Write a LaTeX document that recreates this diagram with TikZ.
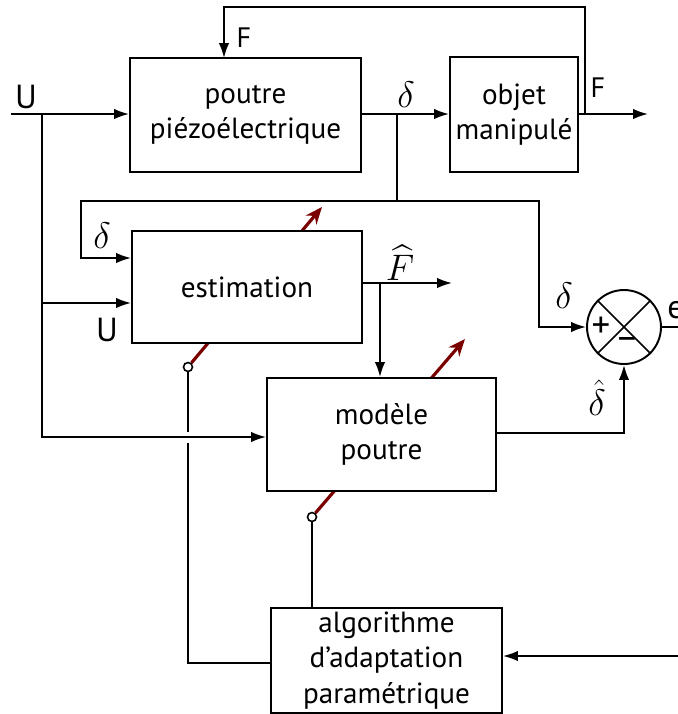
\RequirePackage{fix-cm}
\documentclass[tikz,border=0pt]{standalone}
\usepackage{amsmath}
\usepackage{fontspec}
\setmainfont{PT Sans}
\usetikzlibrary{positioning,arrows.meta,calc}
\definecolor{bordeaux}{RGB}{122,0,0}

\begin{document}
\begin{tikzpicture}[
  x=0.02cm, y=-0.02cm,
  blk/.style={rectangle, draw=black, line width=1.1pt, fill=white,
              align=center, inner sep=0pt,
              font=\fontsize{16.6}{20}\selectfont},
  sig/.style={inner sep=0pt, font=\fontsize{19}{20}\selectfont},
  sigf/.style={inner sep=0pt, font=\fontsize{16}{18}\selectfont},
  sigm/.style={inner sep=0pt, font=\fontsize{21}{22}\selectfont},
  arr/.style={-{Latex[length=3mm,width=2.1mm]}, line width=1.1pt},
  wire/.style={line width=1.1pt},
  adj/.style={-{Stealth[length=3.4mm,width=2.8mm]}, line width=1.8pt, bordeaux},
  pin/.style={circle, draw=black, fill=white, line width=0.9pt,
              minimum size=0.18cm, inner sep=0pt},
]
\useasboundingbox (0,0) rectangle (678,714);

% adjustable parameters (drawn under the blocks)
\node[pin] (pinE) at (188,367) {};
\node[pin] (pinM) at (312,517) {};
\coordinate (tipE) at (322,207);
\coordinate (tipM) at (465,339);
\draw[adj] (pinE) -- (tipE);
\draw[adj] (pinM) -- (tipM);

% blocks
\node[blk, minimum width=4.62cm, minimum height=2.28cm] (poutre) at (245.5,115) {poutre\\piézoélectrique};
\node[blk, minimum width=2.56cm, minimum height=2.30cm] (objet) at (514,114.5) {objet\\manipulé};
\node[blk, minimum width=4.60cm, minimum height=2.24cm] (estim) at (247,287) {estimation};
\node[blk, minimum width=4.58cm, minimum height=2.26cm] (modele) at (381.5,434.5) {modèle\\poutre};
\node[blk, minimum width=4.62cm, minimum height=2.10cm] (algo) at (386.5,660.5) {algorithme\\d’adaptation\\paramétrique};

% comparator
\node[circle, draw=black, line width=1.1pt, minimum size=1.48cm, inner sep=0pt] (sum) at (624,327) {};
\draw[line width=0.9pt] (sum.north west) -- (sum.south east);
\draw[line width=0.9pt] (sum.north east) -- (sum.south west);
\node[sigm] (plus) at ($(sum.center)+(-23,0)$) {+};
\node[sigm] (minus) at ($(sum.center)+(3,16)$) {\textendash};

% helper points
\coordinate (Uin) at (11,114);
\coordinate (jU) at (42,114);
\coordinate (dJ) at (397,114);
\coordinate (dTop) at (397,201);
\coordinate (dLeft) at (81,201);
\coordinate (dRight) at (539,201);
\coordinate (fJ) at (585,114);
\coordinate (fTop) at (585,7);
\coordinate (fIn) at (224,58);
\coordinate (Fout) at (648,114);
\coordinate (FhOut) at (452,283);
\coordinate (fhJ) at (380,283);
\coordinate (eOut) at (678,327);
\coordinate (aIn) at (678,656);
\coordinate (gapLo) at (188,443);
\coordinate (gapHi) at (188,432);

% main chain
\draw[arr] (Uin) -- (poutre.west |- Uin);
\draw[arr] (poutre.east |- dJ) -- (objet.west |- dJ);
\draw[arr] (objet.east |- Fout) -- (Fout);
\draw[arr] (fJ) -- (fTop) -| (fIn);

% input U to estimation and model
\draw[arr] (jU) |- (modele.west |- 0,437);
\draw[arr] (jU |- 0,303) -- (estim.west |- 0,303);

% delta distribution
\draw[wire] (dJ) -- (dTop);
\draw[arr] (dTop) -- (dLeft) |- (estim.west |- 0,258);
\draw[arr] (dTop) -- (dRight) |- (sum.west);

% estimated force
\draw[arr] (estim.east |- FhOut) -- (FhOut);
\draw[arr] (fhJ) -- (fhJ |- modele.north);

% model output and error
\draw[arr] (modele.east |- 0,433) -| (sum.south);
\draw[wire] (sum.east) -- (eOut);

% adaptation
\draw[arr] (aIn) -- (algo.east |- aIn);
\draw[wire] (algo.west |- 0,663) -| (gapLo);
\draw[wire] (gapHi) -- (pinE);
\draw[wire] (algo.north -| pinM) -- (pinM);

% signal labels
\node[sig] (lU1) at (26,97) {U};
\node[sigf] (lF1) at (244,38) {F};
\node[sigm] (ld1) at (406,95) {$\delta$};
\node[sigf] (lF2) at (598,88) {F};
\node[sigm] (ld2) at (102,236) {$\delta$};
\node[sig] (lU2) at (107,330) {U};
\node[sigm] (lFh) at (400,263) {$\widehat{F}$};
\node[sigm] (ld3) at (564,296) {$\delta$};
\node[sigm] (ldh) at (597,398) {$\hat{\delta}$};
\node[sig, anchor=west] (le) at (667,310) {e};

\end{tikzpicture}
\end{document}
